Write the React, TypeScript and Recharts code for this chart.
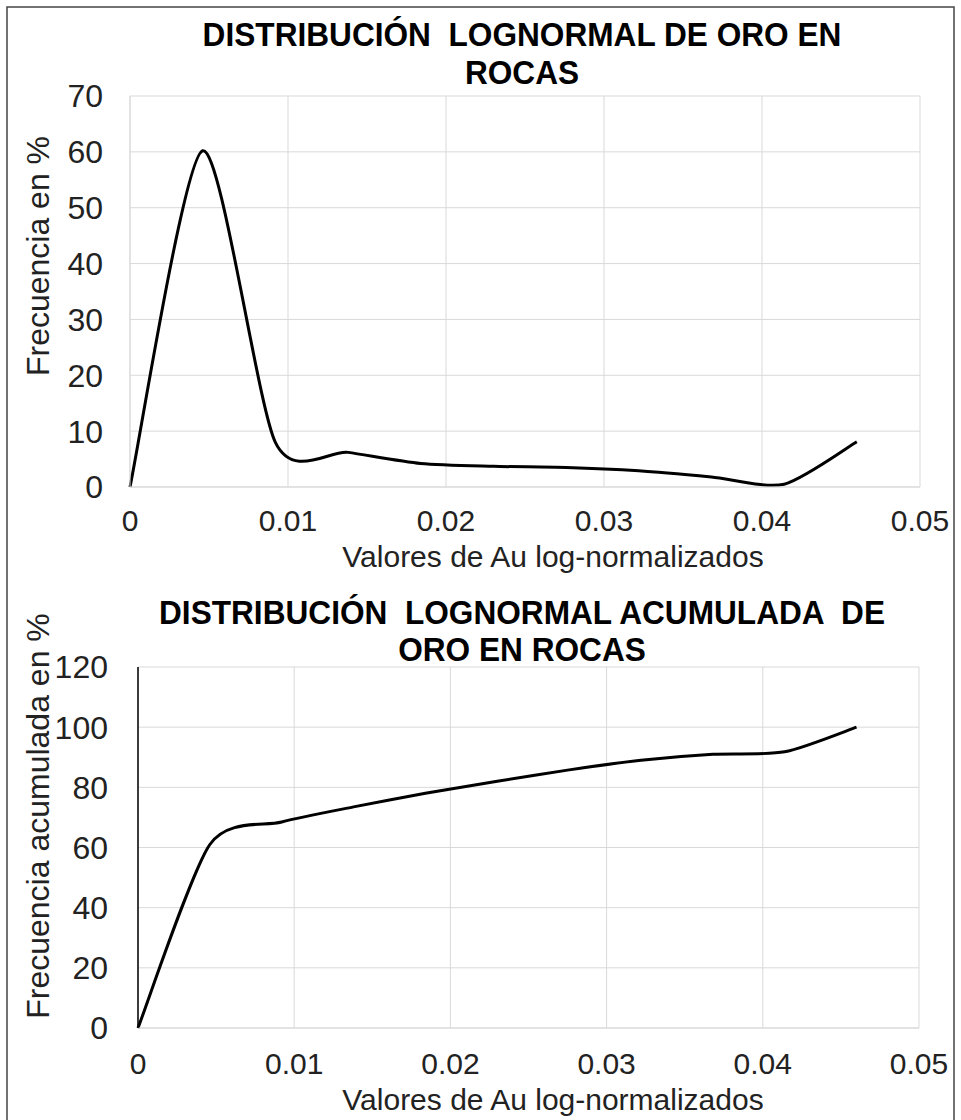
import React from 'react';
import { LineChart, Line, XAxis, YAxis, CartesianGrid } from 'recharts';

// bin centres of the log-normalised Au values
const AU_VALUES = [0, 0.0046, 0.0092, 0.0138, 0.0184, 0.023, 0.0276, 0.0322, 0.0368, 0.0414, 0.046];
const FREQUENCY = [0, 60.2, 8, 6.2, 4.2, 3.7, 3.5, 2.9, 1.8, 0.5, 8.1];
const CUMULATIVE = [0, 61, 68.5, 73.5, 78, 82, 85.8, 89, 91, 91.8, 100];

const X_TICKS = [0, 0.01, 0.02, 0.03, 0.04, 0.05];
const FREQ_TICKS = [0, 10, 20, 30, 40, 50, 60, 70];
const CUM_TICKS = [0, 20, 40, 60, 80, 100, 120];

const TITLE_TOP = ['DISTRIBUCIÓN  LOGNORMAL DE ORO EN', 'ROCAS'];
const TITLE_BOTTOM = ['DISTRIBUCIÓN  LOGNORMAL ACUMULADA  DE', 'ORO EN ROCAS'];
const X_LABEL = 'Valores de Au log-normalizados';
const Y_LABEL_TOP = 'Frecuencia en %';
const Y_LABEL_BOTTOM = 'Frecuencia acumulada en %';

const freqData = AU_VALUES.map((x, i) => ({ x, y: FREQUENCY[i] }));
const cumData = AU_VALUES.map((x, i) => ({ x, y: CUMULATIVE[i] }));

const font = '"Liberation Sans", Arial, sans-serif';
const gridColor = '#d9d9d9';
const yTickStyle = { fill: '#222', fontSize: 32, fontFamily: font };
const xTickStyle = { fill: '#222', fontSize: 30, fontFamily: font };

// Excel-like smoothed line (cardinal spline through the points)
const smoothCurve = (k: number) => (context: any) => {
  let pts: number[][] = [];
  return {
    areaStart() {},
    areaEnd() {},
    lineStart() { pts = []; },
    point(x: number, y: number) { pts.push([+x, +y]); },
    lineEnd() {
      const n = pts.length;
      if (!n) return;
      context.moveTo(pts[0][0], pts[0][1]);
      for (let i = 0; i < n - 1; i++) {
        const p0 = pts[Math.max(i - 1, 0)];
        const p1 = pts[i];
        const p2 = pts[i + 1];
        const p3 = pts[Math.min(i + 2, n - 1)];
        context.bezierCurveTo(
          p1[0] + (p2[0] - p0[0]) * k, p1[1] + (p2[1] - p0[1]) * k,
          p2[0] - (p3[0] - p1[0]) * k, p2[1] - (p3[1] - p1[1]) * k,
          p2[0], p2[1]
        );
      }
    },
  };
};

const Title = ({ lines, cx, y }: { lines: string[]; cx: number; y: number[] }) => (
  <g>
    {lines.map((t, i) => (
      <g key={i} transform={`translate(${cx},${y[i]}) scale(0.93,1)`}>
        <text x={0} y={0} textAnchor="middle" fontSize={34} fontWeight="bold" fontFamily={font} fill="#000" style={{ whiteSpace: 'pre' }}>{t}</text>
      </g>
    ))}
  </g>
);

export default function App() {
  return (
    <div style={{ position: 'absolute', left: 0, top: 0, width: 961, height: 1120, background: '#fff', overflow: 'hidden' }}>
      <div style={{ position: 'absolute', left: 0, top: 0 }}>
        <LineChart width={961} height={560} data={freqData} margin={{ top: 96, right: 41, bottom: 13, left: 70 }}>
          <CartesianGrid stroke={gridColor} strokeWidth={1} />
          <XAxis type="number" dataKey="x" domain={[0, 0.05]} ticks={X_TICKS} height={60} tickSize={0} tickMargin={23}
            tickFormatter={(v) => String(v)} tick={xTickStyle} axisLine={{ stroke: gridColor }} tickLine={false} interval={0} />
          <YAxis type="number" domain={[0, 70]} ticks={FREQ_TICKS} width={60} tickSize={0} tickMargin={27}
            tick={yTickStyle} axisLine={{ stroke: gridColor }} tickLine={false} interval={0} />
          <Line dataKey="y" type={smoothCurve(0.125) as any} stroke="#000" strokeWidth={3} dot={false} activeDot={false} isAnimationActive={false} />
        </LineChart>
      </div>
      <div style={{ position: 'absolute', left: 0, top: 580 }}>
        <LineChart width={961} height={540} data={cumData} margin={{ top: 87, right: 42, bottom: 32, left: 78 }}>
          <CartesianGrid stroke={gridColor} strokeWidth={1} />
          <XAxis type="number" dataKey="x" domain={[0, 0.05]} ticks={X_TICKS} height={60} tickSize={0} tickMargin={25}
            tickFormatter={(v) => String(v)} tick={xTickStyle} axisLine={{ stroke: gridColor }} tickLine={false} interval={0} />
          <YAxis type="number" domain={[0, 120]} ticks={CUM_TICKS} width={60} tickSize={0} tickMargin={30}
            tick={yTickStyle} axisLine={{ stroke: '#000', strokeWidth: 1.5 }} tickLine={false} interval={0} />
          <Line dataKey="y" type={smoothCurve(0.125) as any} stroke="#000" strokeWidth={3} dot={false} activeDot={false} isAnimationActive={false} />
        </LineChart>
      </div>
      <svg width={961} height={1120} style={{ position: 'absolute', left: 0, top: 0, pointerEvents: 'none' }}>
        <rect x={7} y={7} width={947} height={1130} fill="none" stroke="#444" strokeWidth={1.5} />
        <Title lines={TITLE_TOP} cx={522} y={[46, 84]} />
        <Title lines={TITLE_BOTTOM} cx={522} y={[624, 661]} />
        <text x={553} y={567} textAnchor="middle" fontSize={30} fontFamily={font} fill="#222">{X_LABEL}</text>
        <text x={553} y={1110} textAnchor="middle" fontSize={30} fontFamily={font} fill="#222">{X_LABEL}</text>
        <text transform="translate(49,256) rotate(-90)" textAnchor="middle" fontSize={32} fontFamily={font} fill="#222">{Y_LABEL_TOP}</text>
        <text transform="translate(49,816) rotate(-90)" textAnchor="middle" fontSize={32} fontFamily={font} fill="#222">{Y_LABEL_BOTTOM}</text>
      </svg>
    </div>
  );
}
